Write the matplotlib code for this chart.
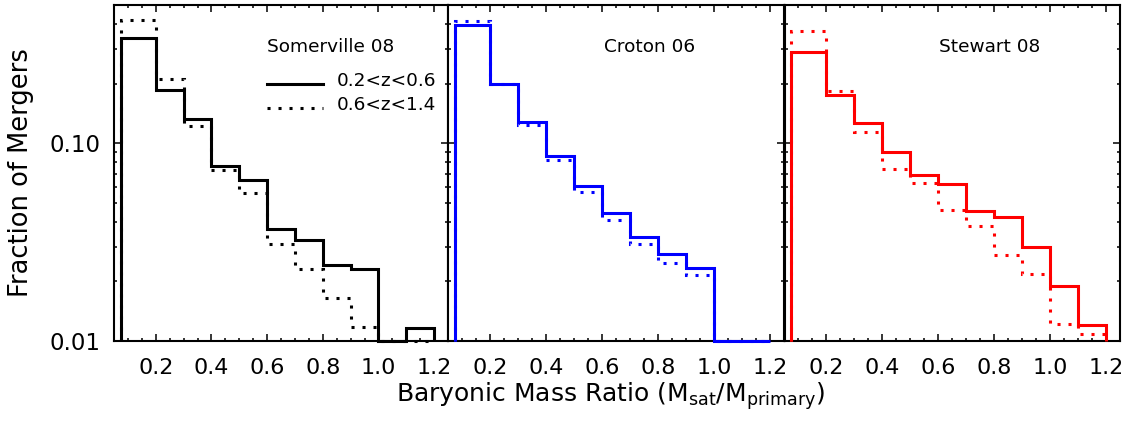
import numpy as np
import matplotlib
matplotlib.use("Agg")
import matplotlib.pyplot as plt
from matplotlib.ticker import FixedLocator, MultipleLocator, LogLocator, NullFormatter, FuncFormatter
from matplotlib.lines import Line2D

plt.rcParams["font.family"] = ["DejaVu Sans"]
plt.rcParams["mathtext.fontset"] = "dejavusans"

# Bin edges in baryonic mass ratio (first bin starts at the lower mass-ratio cut)
bin_edges = [0.075, 0.2, 0.3, 0.4, 0.5, 0.6, 0.7, 0.8, 0.9, 1.0, 1.1, 1.2]

# Fraction of mergers per bin (0 = empty bin)
somerville_lowz = [0.341, 0.185, 0.133, 0.0765, 0.065, 0.037, 0.0323, 0.0241, 0.0232, 0.0, 0.0116]
somerville_highz = [0.419, 0.211, 0.122, 0.073, 0.0563, 0.031, 0.0231, 0.0165, 0.0118, 0.0, 0.0]
croton_lowz = [0.395, 0.200, 0.128, 0.0866, 0.0608, 0.0446, 0.0337, 0.0274, 0.0234, 0.0, 0.0]
croton_highz = [0.416, 0.199, 0.123, 0.082, 0.0567, 0.0408, 0.0308, 0.0249, 0.0215, 0.0, 0.0]
stewart_lowz = [0.288, 0.175, 0.126, 0.0907, 0.0689, 0.0623, 0.0455, 0.0426, 0.0299, 0.019, 0.012]
stewart_highz = [0.369, 0.183, 0.114, 0.0738, 0.0632, 0.0458, 0.0382, 0.0271, 0.0219, 0.0122, 0.0108]

model_names = ["Somerville 08", "Croton 06", "Stewart 08"]
model_colors = ["black", "#0000ff", "#ff0000"]
legend_labels = ["0.2<z<0.6", "0.6<z<1.4"]
x_ticks = [0.2, 0.4, 0.6, 0.8, 1.0, 1.2]
y_ticks = [0.01, 0.10]

YMIN, YMAX = 0.01, 0.5
XMIN, XMAX = 0.05, 1.25

W, H = 1130, 421
fig = plt.figure(figsize=(W / 100, H / 100), dpi=100)

panels_px = [(114, 448), (448, 784), (784.5, 1120)]
top_px, bot_px = 5, 341

lw_hist = 2.2
dots = (0, (1, 2.6))

series = [(somerville_lowz, somerville_highz),
          (croton_lowz, croton_highz),
          (stewart_lowz, stewart_highz)]

axes = []
for i, ((x0, x1), name, color, (lowz, highz)) in enumerate(
        zip(panels_px, model_names, model_colors, series)):
    ax = fig.add_axes([x0 / W, 1 - bot_px / H, (x1 - x0) / W, (bot_px - top_px) / H])
    axes.append(ax)
    ax.set_yscale("log")
    ax.set_xlim(XMIN, XMAX)
    ax.set_ylim(YMIN, YMAX)

    hi = np.clip(np.asarray(highz, float), YMIN, None)
    lo = np.clip(np.asarray(lowz, float), YMIN, None)
    ax.stairs(hi, bin_edges, baseline=YMIN, color=color, lw=lw_hist,
              linestyle=dots, clip_on=False, zorder=3)
    ax.stairs(lo, bin_edges, baseline=YMIN, color=color, lw=lw_hist,
              linestyle="-", clip_on=False, zorder=4)

    # ticks on all four sides, pointing inward
    ax.xaxis.set_major_locator(FixedLocator(x_ticks))
    ax.xaxis.set_minor_locator(MultipleLocator(0.05))
    ax.xaxis.set_major_formatter(FuncFormatter(lambda v, p: f"{v:.1f}"))
    ax.yaxis.set_major_locator(FixedLocator(y_ticks))
    ax.yaxis.set_minor_locator(LogLocator(base=10, subs=np.arange(2, 10)))
    ax.yaxis.set_minor_formatter(NullFormatter())
    if i == 0:
        ax.yaxis.set_major_formatter(FuncFormatter(lambda v, p: f"{v:.2f}"))
    else:
        ax.yaxis.set_major_formatter(NullFormatter())
    ax.tick_params(which="both", direction="in", top=True, right=True,
                   width=1.1, colors="black")
    ax.tick_params(which="major", length=5.0)
    ax.tick_params(which="minor", length=2.3)
    ax.tick_params(axis="x", which="major", labelsize=16, pad=12)
    ax.tick_params(axis="y", which="major", labelsize=16.5, pad=10)
    for sp in ax.spines.values():
        sp.set_linewidth(1.5)

    if i == 0:
        ax.text(0.458, 0.875, name, transform=ax.transAxes, fontsize=13.3,
                ha="left", va="center")
    else:
        cx = 0.601 if i == 1 else 0.612
        ax.text(cx, 0.875, name, transform=ax.transAxes, fontsize=13.3,
                ha="center", va="center")

# redshift key in the first panel
ax0 = axes[0]
for y, ls, lab in [(0.765, "-", legend_labels[0]), (0.693, dots, legend_labels[1])]:
    ax0.add_line(Line2D([0.458, 0.626], [y, y], transform=ax0.transAxes,
                        color="black", lw=lw_hist, linestyle=ls))
    ax0.text(0.668, y + 0.01, lab, transform=ax0.transAxes, fontsize=13.3,
             ha="left", va="center")

fig.text(21 / W, 1 - 173 / H, "Fraction of Mergers", rotation=90,
         fontsize=18.5, ha="center", va="center")
fig.text(610 / W, 1 - 402 / H,
         r"Baryonic Mass Ratio (M$_{\mathregular{sat}}$/M$_{\mathregular{primary}}$)",
         fontsize=18, ha="center", va="baseline")

fig.savefig("out.png", dpi=100)
